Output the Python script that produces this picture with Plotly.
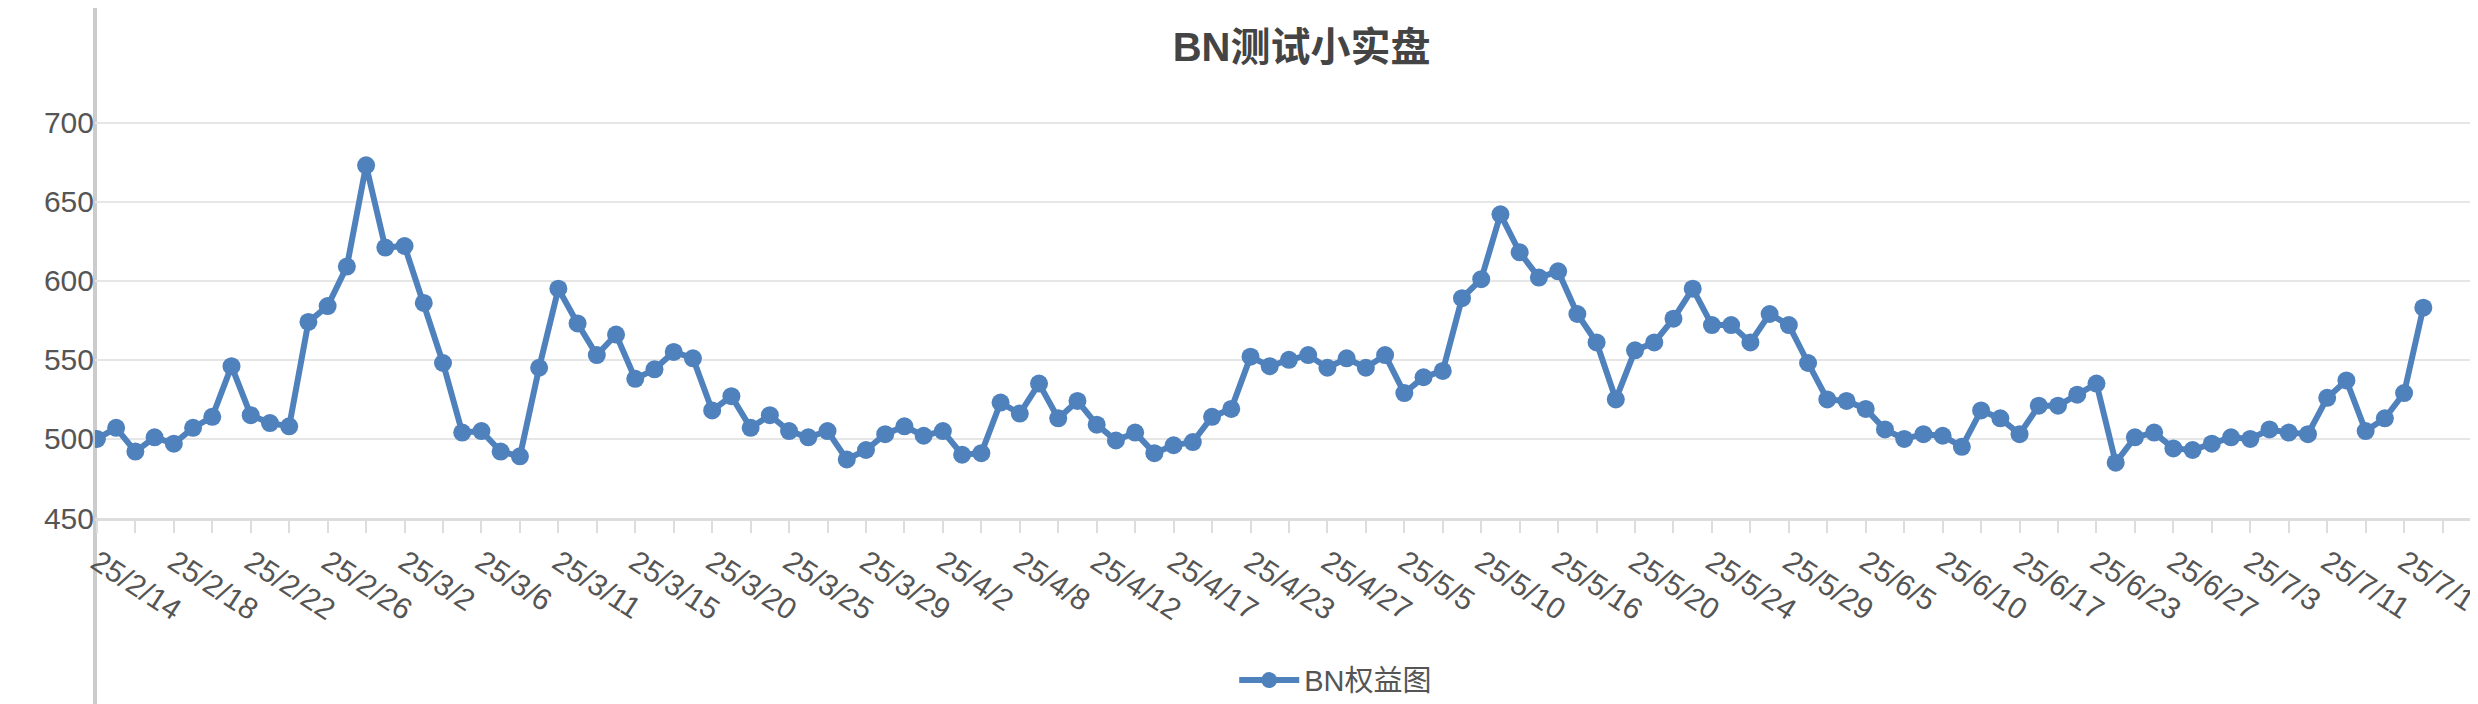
import plotly.graph_objects as go

values = [500, 507, 492, 501, 497, 507, 514, 546, 515, 510, 508, 574, 584, 609, 673, 621, 622, 586, 548, 504,
          505, 492, 489, 545, 595, 573, 553, 566, 538, 544, 555, 551, 518, 527, 507, 515, 505, 501, 505, 487,
          493, 503, 508, 502, 505, 490, 491, 523, 516, 535, 513, 524, 509, 499, 504, 491, 496, 498, 514, 519,
          552, 546, 550, 553, 545, 551, 545, 553, 529, 539, 543, 589, 601, 642, 618, 602, 606, 579, 561, 525,
          556, 561, 576, 595, 572, 572, 561, 579, 572, 548, 525, 524, 519, 506, 500, 503, 502, 495, 518, 513,
          503, 521, 521, 528, 535, 485, 501, 504, 494, 493, 497, 501, 500, 506, 504, 503, 526, 537, 505, 513,
          529, 583]
date_labels = ["25/2/14", "25/2/18", "25/2/22", "25/2/26", "25/3/2", "25/3/6", "25/3/11", "25/3/15", "25/3/20",
               "25/3/25", "25/3/29", "25/4/2", "25/4/8", "25/4/12", "25/4/17", "25/4/23", "25/4/27", "25/5/5",
               "25/5/10", "25/5/16", "25/5/20", "25/5/24", "25/5/29", "25/6/5", "25/6/10", "25/6/17", "25/6/23",
               "25/6/27", "25/7/3", "25/7/11", "25/7/17"]
y_ticks = [450, 500, 550, 600, 650, 700]

LABEL_EVERY = 4
TICK_EVERY = 2
n_cat = 124

xs = list(range(len(values)))
tickvals = list(range(0, n_cat + 1, TICK_EVERY))
ticktext = []
for v in tickvals:
    k = v // LABEL_EVERY
    ticktext.append(date_labels[k] if v % LABEL_EVERY == 0 and k < len(date_labels) else "")

fig = go.Figure()
fig.add_trace(go.Scatter(
    x=xs, y=values, mode="lines+markers", name="BN权益图",
    line=dict(color="#4f81bd", width=6),
    marker=dict(color="#4f81bd", size=18),
))

font = "Helvetica, Arial, 'Liberation Sans', 'Noto Sans CJK SC', sans-serif"
fig.update_layout(
    width=2478, height=704,
    margin=dict(l=87, r=5, t=83, b=194, autoexpand=False),
    paper_bgcolor="white", plot_bgcolor="white",
    font=dict(family=font, size=30, color="#555"),
    title=dict(text="<b>BN测试小实盘</b>", x=0.522, xanchor="center", y=0.945, yanchor="middle",
               font=dict(size=40, color="#444", family=font)),
    showlegend=True,
    legend=dict(orientation="h", x=0.52, xanchor="center", y=-0.38, yanchor="middle",
                font=dict(size=29, color="#555"), itemwidth=60),
    xaxis=dict(range=[-0.1, n_cat], tickmode="array", tickvals=tickvals, ticktext=ticktext,
               tickangle=33, ticks="outside", ticklen=12, tickwidth=2, tickcolor="#dddddd",
               ticklabeloverflow="allow", automargin=False,
               showgrid=False, zeroline=False, showline=True, linecolor="#dddddd", linewidth=3,
               tickfont=dict(size=30, color="#555")),
    yaxis=dict(range=[450, 720], tickvals=y_ticks, showgrid=True, gridcolor="#e6e6e6", gridwidth=2,
               automargin=False, zeroline=False, showline=False, ticks="", tickfont=dict(size=30, color="#555")),
)
fig.add_shape(type="line", xref="paper", yref="paper", x0=0, x1=0, y0=-0.5, y1=1.25,
              line=dict(color="#cccccc", width=4), layer="below")
fig.write_html("out.html")
